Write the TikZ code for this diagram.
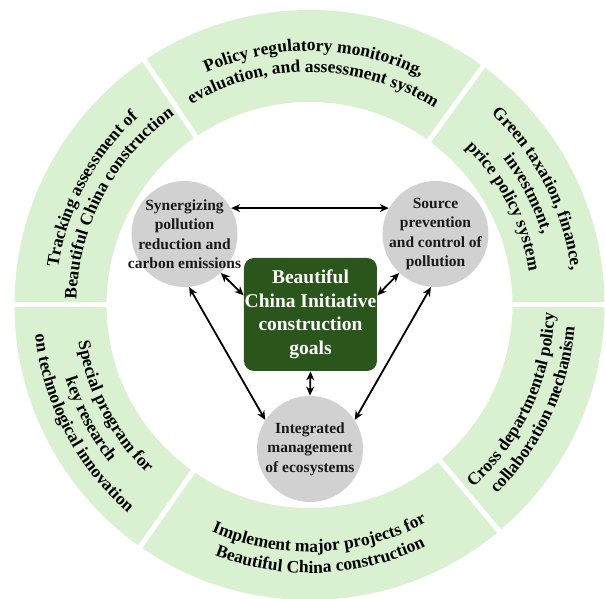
\documentclass[tikz,border=0pt]{standalone}
\usepackage{fontspec}
\setmainfont{Liberation Serif}
\usepackage{xcolor}
\usetikzlibrary{arrows.meta,decorations.text}

\definecolor{ringgreen}{RGB}{217,241,208}
\definecolor{goalgreen}{RGB}{42,85,27}
\definecolor{circgray}{RGB}{209,209,209}
\newcommand{\ringfont}{\fontsize{17.5}{21}\selectfont\bfseries}

\begin{document}
\begin{tikzpicture}[x=1pt,y=1pt,thick]
\tikzstyle{circ} = [circle, fill=circgray, minimum size=106pt, inner sep=0pt]
\tikzstyle{circtext} = [align=center, font=\fontsize{15.5}{19.5}\selectfont\bfseries, text=black!90]
\tikzstyle{goalbox} = [rectangle, rounded corners=10pt, fill=goalgreen, text=white, align=center, minimum width=133pt, minimum height=113pt, inner sep=0pt, font=\fontsize{19.5}{23.5}\selectfont\bfseries]
\tikzstyle{link} = [{Stealth[length=9pt,width=8pt]}-{Stealth[length=9pt,width=8pt]}, line width=1.8pt]
\tikzstyle{ringtext} = [decorate, decoration={text along path, text align=center}]
\useasboundingbox (-309.5,-294) rectangle (296.5,305);
% outer ring
\fill[ringgreen, even odd rule] (0,0) circle[radius=295] (0,0) circle[radius=203];
\foreach \a in {0,54,124,180,235,310}
	\draw[white, line width=5pt] (\a:200) -- (\a:299);
% upper half, read clockwise
\path[ringtext, decoration={text={|\ringfont|Tracking assessment of}}] (188:254) arc[start angle=188, end angle=116, radius=254];
\path[ringtext, decoration={text={|\ringfont|Beautiful China construction}}] (188:233) arc[start angle=188, end angle=116, radius=233];
\path[ringtext, decoration={text={|\ringfont|Policy regulatory monitoring,}}] (132:254) arc[start angle=132, end angle=46, radius=254];
\path[ringtext, decoration={text={|\ringfont|evaluation, and assessment system}}] (132:233) arc[start angle=132, end angle=46, radius=233];
\path[ringtext, decoration={text={|\ringfont|Green taxation, finance,}}] (62:264) arc[start angle=62, end angle=-8, radius=264];
\path[ringtext, decoration={text={|\ringfont|investment,}}] (62:243) arc[start angle=62, end angle=-8, radius=243];
\path[ringtext, decoration={text={|\ringfont|price policy system}}] (62:222) arc[start angle=62, end angle=-8, radius=222];
% lower half, read counterclockwise
\path[ringtext, decoration={text={|\ringfont|Special program for}}] (172:234) arc[start angle=172, end angle=243, radius=234];
\path[ringtext, decoration={text={|\ringfont|key research}}] (172:255) arc[start angle=172, end angle=243, radius=255];
\path[ringtext, decoration={text={|\ringfont|on technological innovation}}] (172:276) arc[start angle=172, end angle=243, radius=276];
\path[ringtext, decoration={text={|\ringfont|Implement major projects for}}] (227:247) arc[start angle=227, end angle=318, radius=247];
\path[ringtext, decoration={text={|\ringfont|Beautiful China construction}}] (227:268) arc[start angle=227, end angle=318, radius=268];
\path[ringtext, decoration={text={|\ringfont|Cross departmental policy}}] (302:245) arc[start angle=302, end angle=368, radius=245];
\path[ringtext, decoration={text={|\ringfont|collaboration mechanism}}] (302:266) arc[start angle=302, end angle=368, radius=266];
% inner nodes
\node[circ] (syn) at (-125,71) {};
\node[circtext] (syn-t) at (syn) {Synergizing\\pollution\\reduction and\\carbon emissions};
\node[circ] (src) at (126,71) {};
\node[circtext] (src-t) at (src) {Source\\prevention\\and control of\\pollution};
\node[circ] (eco) at (0.5,-144) {};
\node[circtext] (eco-t) at (eco) {Integrated\\management\\of ecosystems};
\node[goalbox] (goal) at (1,-9.5) {Beautiful\\China Initiative\\construction\\goals};
% links
\draw[link] (syn.29) -- (src.151);
\draw[link] (syn.-47) -- (goal.164);
\draw[link] (src.-133) -- (goal.16);
\draw[link] (syn.-85) -- (eco.147);
\draw[link] (src.-95) -- (eco.33);
\draw[link] (goal.south) -- (eco.north);
\end{tikzpicture}
\end{document}
